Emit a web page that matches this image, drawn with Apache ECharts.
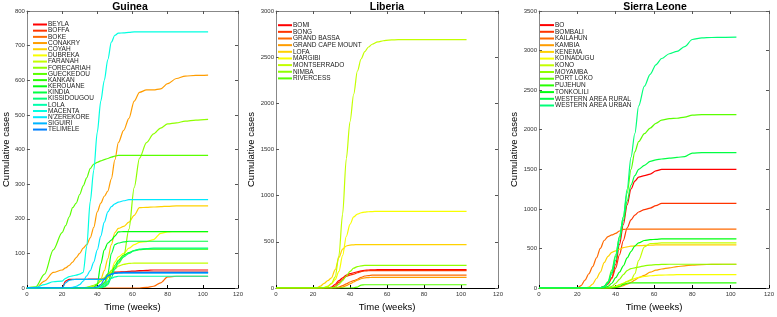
<!DOCTYPE html>
<html>
<head>
<meta charset="utf-8">
<script src="https://cdn.jsdelivr.net/npm/echarts@6/dist/echarts.min.js"></script>
<style>
  html, body { margin: 0; padding: 0; background: #fff; }
  #chart { width: 777px; height: 317px; }
</style>
</head>
<body>
<div id="chart"></div>
<script>
// sample weeks shared by every district curve
const weeks = [0, 5, 10, 15, 20, 22, 24, 26, 28, 30, 32, 34, 36, 38, 40, 42, 44, 46, 48, 50, 52, 55, 58, 61, 64, 68, 72, 76, 80, 85, 90, 96, 103]

const countries = ['Guinea', 'Liberia', 'Sierra Leone']
const yMax = [800, 3000, 3500]
const yStep = [100, 500, 500]

// Guinea
const guineaNames = ['BEYLA', 'BOFFA', 'BOKE', 'CONAKRY', 'COYAH', 'DUBREKA', 'FARANAH', 'FORECARIAH', 'GUECKEDOU', 'KANKAN', 'KEROUANE', 'KINDIA', 'KISSIDOUGOU', 'LOLA', 'MACENTA', "N'ZEREKORE", 'SIGUIRI', 'TELIMELE']
const guineaValues = [
  [0, 0, 0, 0, 0, 20, 25, 25, 25, 25, 25, 25, 26, 26, 26, 26, 27, 40, 45, 46, 46, 47, 48, 49, 50, 51, 52, 52, 52, 52, 52, 52, 52],
  [0, 0, 0, 0, 0, 0, 0, 0, 0, 0, 0, 0, 0, 0, 0, 0, 10, 30, 42, 44, 45, 46, 46, 46, 46, 46, 46, 46, 46, 46, 46, 46, 46],
  [0, 0, 0, 0, 0, 0, 0, 0, 0, 0, 0, 0, 0, 0, 0, 0, 0, 0, 0, 0, 0, 0, 0, 0, 0, 2, 5, 15, 32, 34, 34, 34, 34],
  [0, 0, 20, 45, 52, 58, 65, 75, 88, 100, 115, 125, 145, 175, 220, 245, 265, 280, 315, 370, 420, 455, 490, 540, 565, 572, 572, 575, 590, 605, 612, 614, 615],
  [0, 0, 0, 0, 0, 0, 0, 0, 0, 0, 0, 0, 2, 5, 10, 25, 50, 85, 125, 160, 172, 178, 190, 210, 232, 233, 234, 235, 236, 237, 237, 237, 237],
  [0, 0, 0, 0, 0, 0, 0, 0, 0, 0, 0, 0, 0, 0, 3, 8, 15, 30, 50, 75, 90, 100, 115, 125, 132, 134, 140, 158, 162, 163, 163, 163, 163],
  [0, 0, 0, 0, 0, 0, 0, 0, 0, 0, 0, 0, 0, 0, 0, 5, 15, 30, 45, 55, 63, 68, 71, 72, 72, 72, 72, 72, 72, 72, 72, 72, 72],
  [0, 0, 0, 0, 0, 0, 0, 0, 0, 0, 0, 2, 5, 8, 12, 20, 30, 40, 50, 60, 70, 90, 170, 290, 375, 420, 445, 462, 474, 477, 482, 485, 487],
  [0, 3, 40, 110, 160, 180, 205, 232, 245, 270, 295, 318, 345, 358, 363, 367, 371, 374, 378, 381, 383, 383, 383, 383, 383, 383, 383, 383, 383, 383, 383, 383, 383],
  [0, 0, 0, 0, 0, 0, 0, 0, 0, 0, 0, 0, 0, 0, 0, 2, 5, 15, 40, 65, 80, 95, 102, 108, 111, 112, 112, 112, 112, 112, 112, 112, 112],
  [0, 0, 0, 0, 0, 0, 0, 0, 0, 0, 0, 0, 0, 2, 10, 70, 110, 130, 138, 150, 162, 163, 163, 163, 163, 163, 163, 163, 163, 163, 163, 163, 163],
  [0, 0, 0, 0, 0, 0, 0, 0, 0, 0, 0, 0, 0, 0, 0, 5, 15, 40, 100, 125, 130, 133, 135, 135, 135, 135, 135, 135, 135, 135, 135, 135, 135],
  [0, 0, 0, 0, 0, 0, 0, 0, 0, 0, 0, 0, 0, 0, 0, 0, 3, 10, 30, 55, 75, 90, 100, 108, 112, 114, 115, 115, 115, 115, 115, 115, 115],
  [0, 0, 0, 0, 0, 0, 0, 0, 0, 0, 0, 0, 0, 0, 0, 3, 10, 20, 28, 32, 34, 34, 34, 34, 34, 34, 34, 34, 34, 34, 34, 34, 34],
  [0, 2, 10, 18, 20, 28, 33, 35, 37, 40, 45, 120, 250, 340, 450, 540, 600, 660, 710, 730, 736, 737, 738, 740, 740, 740, 740, 740, 740, 740, 740, 740, 740],
  [0, 0, 0, 0, 0, 0, 0, 2, 5, 10, 20, 35, 50, 75, 110, 150, 190, 220, 235, 243, 248, 252, 255, 255, 255, 255, 255, 255, 255, 255, 255, 255, 255],
  [0, 0, 0, 0, 0, 15, 22, 24, 25, 25, 25, 25, 25, 25, 25, 25, 25, 35, 40, 42, 43, 43, 43, 43, 43, 43, 43, 43, 43, 43, 43, 43, 43],
  [0, 0, 0, 0, 0, 0, 0, 0, 0, 0, 0, 0, 0, 0, 3, 10, 25, 35, 40, 43, 44, 45, 45, 45, 45, 45, 45, 45, 45, 45, 45, 45, 45]
]

// Liberia
const liberiaNames = ['BOMI', 'BONG', 'GRAND BASSA', 'GRAND CAPE MOUNT', 'LOFA', 'MARGIBI', 'MONTSERRADO', 'NIMBA', 'RIVERCESS']
const liberiaValues = [
  [0, 0, 0, 0, 0, 0, 0, 0, 0, 10, 40, 80, 110, 140, 155, 165, 175, 185, 192, 195, 197, 198, 198, 198, 198, 198, 198, 198, 198, 198, 198, 198, 198],
  [0, 0, 0, 0, 0, 0, 0, 0, 0, 0, 20, 60, 95, 125, 140, 150, 165, 178, 185, 187, 188, 188, 188, 188, 188, 188, 188, 188, 188, 188, 188, 188, 188],
  [0, 0, 0, 0, 0, 0, 0, 0, 0, 0, 0, 10, 25, 45, 65, 80, 95, 115, 130, 135, 140, 140, 140, 140, 140, 140, 140, 140, 140, 140, 140, 140, 140],
  [0, 0, 0, 0, 0, 0, 0, 0, 0, 0, 0, 0, 10, 25, 45, 65, 85, 100, 110, 113, 115, 115, 115, 115, 115, 115, 115, 115, 115, 115, 115, 115, 115],
  [0, 0, 0, 0, 0, 0, 20, 50, 80, 110, 200, 330, 420, 455, 465, 468, 470, 470, 470, 470, 470, 470, 470, 470, 470, 470, 470, 470, 470, 470, 470, 470, 470],
  [0, 0, 0, 0, 0, 0, 0, 5, 20, 45, 90, 180, 350, 560, 690, 770, 800, 815, 822, 826, 828, 830, 830, 830, 830, 830, 830, 830, 830, 830, 830, 830, 830],
  [0, 0, 0, 0, 0, 0, 0, 5, 15, 50, 120, 350, 800, 1400, 1800, 2100, 2350, 2480, 2560, 2610, 2640, 2665, 2678, 2685, 2688, 2690, 2690, 2690, 2690, 2690, 2690, 2690, 2690],
  [0, 0, 0, 0, 0, 0, 0, 0, 0, 0, 10, 40, 80, 130, 180, 215, 232, 240, 244, 246, 246, 246, 246, 246, 246, 246, 246, 246, 246, 246, 246, 246, 246],
  [0, 0, 0, 0, 0, 0, 0, 0, 0, 0, 0, 0, 0, 0, 0, 2, 10, 32, 35, 35, 35, 35, 35, 35, 35, 35, 35, 35, 35, 35, 35, 35, 35]
]

// Sierra Leone
const sierraNames = ['BO', 'BOMBALI', 'KAILAHUN', 'KAMBIA', 'KENEMA', 'KOINADUGU', 'KONO', 'MOYAMBA', 'PORT LOKO', 'PUJEHUN', 'TONKOLILI', 'WESTERN AREA RURAL', 'WESTERN AREA URBAN']
const sierraValues = [
  [0, 0, 0, 0, 0, 0, 0, 0, 0, 0, 5, 20, 60, 130, 300, 550, 800, 1050, 1250, 1350, 1400, 1420, 1440, 1480, 1500, 1500, 1500, 1500, 1500, 1500, 1500, 1500, 1500],
  [0, 0, 0, 0, 0, 0, 0, 0, 0, 0, 5, 15, 50, 120, 250, 420, 600, 760, 860, 920, 960, 990, 1010, 1040, 1070, 1070, 1070, 1070, 1070, 1070, 1070, 1070, 1070],
  [0, 0, 0, 0, 0, 30, 100, 180, 270, 380, 500, 600, 650, 670, 690, 720, 740, 745, 745, 745, 745, 745, 745, 745, 745, 745, 745, 745, 745, 745, 745, 745, 745],
  [0, 0, 0, 0, 0, 0, 0, 0, 0, 0, 0, 0, 0, 0, 5, 15, 30, 50, 70, 100, 130, 160, 200, 225, 240, 255, 270, 280, 290, 296, 298, 300, 300],
  [0, 0, 0, 0, 0, 0, 0, 10, 50, 120, 200, 320, 400, 450, 470, 490, 510, 520, 528, 532, 535, 538, 540, 544, 544, 544, 544, 544, 544, 544, 544, 544, 544],
  [0, 0, 0, 0, 0, 0, 0, 0, 0, 0, 0, 0, 0, 5, 20, 40, 60, 85, 105, 120, 135, 145, 155, 160, 163, 165, 168, 168, 168, 168, 168, 168, 168],
  [0, 0, 0, 0, 0, 0, 0, 0, 0, 0, 0, 0, 0, 5, 20, 40, 60, 80, 100, 180, 350, 520, 560, 565, 570, 570, 570, 570, 570, 570, 570, 570, 570],
  [0, 0, 0, 0, 0, 0, 0, 0, 0, 0, 0, 0, 5, 20, 60, 110, 170, 220, 245, 255, 265, 280, 290, 295, 298, 300, 300, 300, 300, 300, 300, 300, 300],
  [0, 0, 0, 0, 0, 0, 0, 0, 0, 0, 5, 20, 80, 230, 420, 650, 900, 1200, 1500, 1720, 1850, 1950, 2020, 2080, 2120, 2140, 2145, 2160, 2185, 2190, 2190, 2190, 2190],
  [0, 0, 0, 0, 0, 0, 0, 0, 0, 0, 0, 0, 0, 0, 5, 20, 45, 60, 63, 65, 65, 65, 65, 65, 65, 65, 65, 65, 65, 65, 65, 65, 65],
  [0, 0, 0, 0, 0, 0, 0, 0, 0, 0, 0, 5, 20, 60, 130, 200, 280, 380, 460, 530, 570, 600, 610, 615, 620, 620, 620, 620, 620, 620, 620, 620, 620],
  [0, 0, 0, 0, 0, 0, 0, 0, 0, 0, 5, 20, 70, 180, 350, 600, 850, 1100, 1300, 1420, 1500, 1550, 1600, 1620, 1630, 1640, 1650, 1660, 1705, 1710, 1710, 1710, 1710],
  [0, 0, 0, 0, 0, 0, 0, 0, 0, 0, 5, 15, 60, 200, 400, 650, 900, 1250, 1650, 1950, 2300, 2550, 2700, 2820, 2900, 2960, 2990, 3050, 3140, 3160, 3165, 3168, 3170]
]

const allNames = [guineaNames, liberiaNames, sierraNames]
const allValues = [guineaValues, liberiaValues, sierraValues]

// layout of the three panels
const grids = [
  { left: 22, top: 11, width: 216, height: 283 },
  { left: 276, top: 11, width: 222, height: 283 },
  { left: 539, top: 11, width: 232, height: 283 }
]
const legendPos = [
  { left: 33, top: 21, gap: -0.82 },
  { left: 278, top: 21.7, gap: -0.35 },
  { left: 540, top: 21.6, gap: -0.3 }
]
const yNameGap = [15, 19, 19]

// hsv-like colour ramp, ~12.4 degrees per district
function hueColor(i) {
  return 'hsl(' + (i * 12.35) + ', 100%, 50%)'
}

const font = 'Liberation Sans, Arial, sans-serif'
const xAxes = []
const yAxes = []
const series = []
const legends = []
const titles = []

grids.forEach((g, k) => {
  titles.push({
    text: countries[k],
    left: g.left + g.width / 2,
    top: 2,
    textAlign: 'center',
    padding: 0,
    textStyle: { fontSize: 10.5, fontWeight: 'bold', color: '#000', fontFamily: font }
  })
  xAxes.push({
    gridIndex: k, type: 'value', min: 0, max: 120, interval: 20,
    axisLine: { lineStyle: { color: '#000', width: 1 } },
    axisTick: { inside: true, length: 3, lineStyle: { color: '#000' } },
    axisLabel: { fontSize: 6, color: '#333', margin: 3, fontFamily: font },
    splitLine: { show: false },
    name: 'Time (weeks)', nameLocation: 'middle', nameGap: 14,
    nameTextStyle: { fontSize: 9.5, color: '#000', fontFamily: font }
  })
  xAxes.push({
    gridIndex: k, type: 'value', min: 0, max: 120, interval: 20, position: 'top',
    axisLine: { onZero: false, lineStyle: { color: '#888' } },
    axisTick: { inside: true, length: 3, lineStyle: { color: '#555' } },
    axisLabel: { show: false }, splitLine: { show: false }
  })
  yAxes.push({
    gridIndex: k, type: 'value', min: 0, max: yMax[k], interval: yStep[k],
    axisLine: { show: true, lineStyle: { color: '#888' } },
    axisTick: { show: true, inside: true, length: 3, lineStyle: { color: '#555' } },
    axisLabel: { fontSize: 6, color: '#333', margin: 2, fontFamily: font, formatter: (v) => String(v) },
    splitLine: { show: false },
    name: 'Cumulative cases', nameLocation: 'middle', nameGap: yNameGap[k],
    nameTextStyle: { fontSize: 9.5, color: '#000', fontFamily: font }
  })
  yAxes.push({
    gridIndex: k, type: 'value', min: 0, max: yMax[k], interval: yStep[k], position: 'right',
    axisLine: { show: true, onZero: false, lineStyle: { color: '#888' } },
    axisTick: { show: true, inside: true, length: 3, lineStyle: { color: '#555' } },
    axisLabel: { show: false }, splitLine: { show: false }
  })

  allNames[k].forEach((name, i) => {
    series.push({
      name: name,
      type: 'line',
      xAxisIndex: 2 * k,
      yAxisIndex: 2 * k,
      data: weeks.map((w, j) => [w, allValues[k][i][j]]),
      showSymbol: false,
      smooth: 0.3,
      smoothMonotone: 'x',
      color: hueColor(i),
      lineStyle: { width: 1.2 },
      animation: false
    })
  })

  const lp = legendPos[k]
  legends.push({
    data: allNames[k],
    orient: 'vertical',
    left: lp.left,
    top: lp.top,
    padding: 0,
    itemGap: lp.gap,
    itemWidth: 14,
    itemHeight: 2,
    icon: 'rect',
    selectedMode: false,
    textStyle: { fontSize: 6.5, color: '#222', fontFamily: font, padding: [0, 0, 0, -4] }
  })
})

const chart = echarts.init(document.getElementById('chart'))
chart.setOption({
  animation: false,
  backgroundColor: '#fff',
  title: titles,
  grid: grids,
  xAxis: xAxes,
  yAxis: yAxes,
  legend: legends,
  series: series
})
</script>
</body>
</html>
